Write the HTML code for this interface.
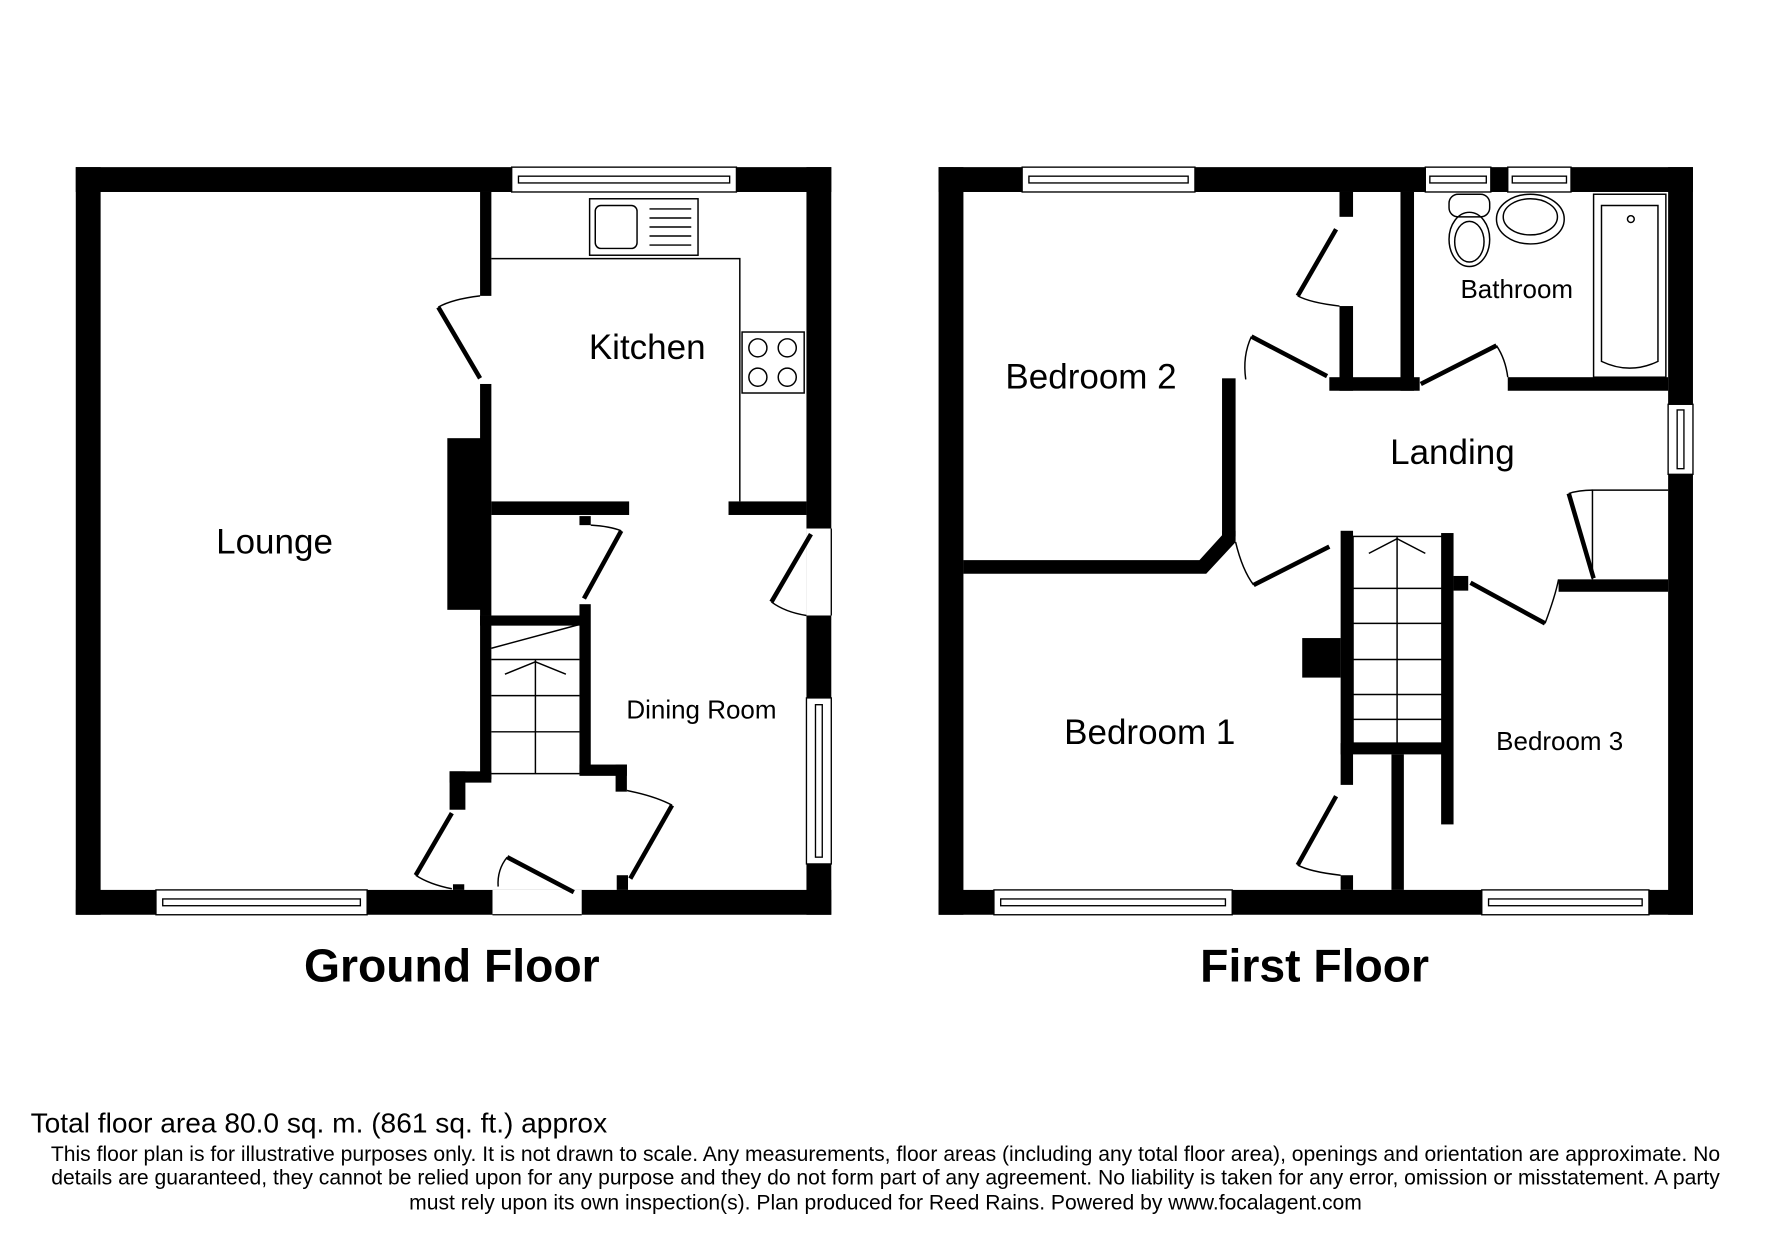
<!DOCTYPE html>
<html><head><meta charset="utf-8"><style>
html,body{margin:0;padding:0;background:#fff;}
svg{display:block;}
text{font-family:"Liberation Sans",Arial,sans-serif;fill:#000;}
</style></head><body>
<svg width="1771" height="1240" viewBox="0 0 1568 1098" xmlns="http://www.w3.org/2000/svg">
<rect width="1568" height="1098" fill="#fff"/>
<g fill="#000">
<rect x="67" y="148" width="669" height="22"/>
<rect x="67" y="788" width="669" height="22"/>
<rect x="67" y="148" width="22" height="662"/>
<rect x="714" y="148" width="22" height="662"/>
<rect x="425" y="170" width="10" height="92"/>
<rect x="425" y="340" width="10" height="205"/>
<rect x="396" y="388" width="30" height="152"/>
<rect x="435" y="444" width="122" height="12"/>
<rect x="645" y="444" width="69" height="12"/>
<rect x="425" y="545" width="93" height="9"/>
<rect x="513" y="535" width="10" height="150"/>
<rect x="513" y="677" width="42" height="10"/>
<rect x="545" y="677" width="10" height="24"/>
<rect x="425" y="545" width="10" height="145"/>
<rect x="398" y="683" width="37" height="10"/>
<rect x="398" y="683" width="14" height="34"/>
<rect x="513" y="457" width="10" height="8"/>
<rect x="546" y="775" width="10" height="13"/>
<rect x="401" y="783" width="10" height="5"/>
<rect x="831" y="148" width="668" height="22"/>
<rect x="831" y="788" width="668" height="22"/>
<rect x="831" y="148" width="22" height="662"/>
<rect x="1477" y="148" width="22" height="662"/>
<rect x="1186" y="170" width="12" height="22"/>
<rect x="1186" y="271" width="12" height="75"/>
<rect x="1240" y="170" width="12" height="176"/>
<rect x="1177" y="334" width="80" height="12"/>
<rect x="1335" y="334" width="142" height="12"/>
<rect x="1082" y="335" width="12" height="140"/>
<polygon points="1082,470 1094,470 1094,480 1068,508 853,508 853,496 1062,496 1082,474"/>
<rect x="1187" y="470" width="11" height="225"/>
<rect x="1276" y="472" width="11" height="258"/>
<rect x="1187" y="658" width="98" height="10"/>
<rect x="1232" y="668" width="11" height="120"/>
<rect x="1187" y="775" width="11" height="13"/>
<rect x="1153" y="565" width="34" height="35"/>
<rect x="1380" y="513" width="97" height="11"/>
<rect x="1287" y="510" width="13" height="13"/>
</g>
<g fill="#fff" stroke="#000" stroke-width="1.2">
<rect x="453" y="148" width="199" height="22"/><rect x="459" y="156" width="187" height="6"/>
<rect x="138" y="788" width="187" height="22"/><rect x="144" y="796" width="175" height="6"/>
<rect x="714" y="618" width="22" height="147"/><rect x="722" y="624" width="6" height="135"/>
<rect x="714" y="468" width="22" height="77" stroke="none"/>
<rect x="436" y="788" width="79" height="22" stroke="none"/>
<line x1="436" y1="810" x2="515" y2="810"/>
<line x1="736" y1="468" x2="736" y2="545"/>
<rect x="905" y="148" width="153" height="22"/><rect x="911" y="156" width="141" height="6"/>
<rect x="1262" y="148" width="58" height="22"/><rect x="1266" y="156" width="50" height="6"/>
<rect x="1335" y="148" width="56" height="22"/><rect x="1339" y="156" width="48" height="6"/>
<rect x="880" y="788" width="211" height="22"/><rect x="886" y="796" width="199" height="6"/>
<rect x="1312" y="788" width="148" height="22"/><rect x="1318" y="796" width="136" height="6"/>
<rect x="1477" y="358" width="22" height="62"/><rect x="1485" y="363" width="6" height="52"/>
</g>
<g fill="none" stroke="#000" stroke-width="1.3">
<polyline points="435,229 655,229 655,444"/>
<rect x="522" y="176" width="96" height="50"/>
<rect x="527" y="182" width="37" height="38" rx="5"/>
<line x1="575" y1="185" x2="612" y2="185"/><line x1="575" y1="193" x2="612" y2="193"/><line x1="575" y1="201" x2="612" y2="201"/><line x1="575" y1="209" x2="612" y2="209"/><line x1="575" y1="217" x2="612" y2="217"/>
<rect x="657" y="294" width="55" height="54"/>
<circle cx="671" cy="308" r="8"/><circle cx="697" cy="308" r="8"/><circle cx="671" cy="334" r="8"/><circle cx="697" cy="334" r="8"/>
<line x1="435" y1="584" x2="513" y2="584"/><line x1="435" y1="616" x2="513" y2="616"/><line x1="435" y1="648" x2="513" y2="648"/>
<line x1="474" y1="584" x2="474" y2="685"/><line x1="435" y1="685" x2="513" y2="685"/>
<line x1="435" y1="574" x2="513" y2="553"/>
<polyline points="447,597 474,586 501,597"/>
<rect x="1198" y="475" width="79" height="183"/>
<line x1="1237" y1="475" x2="1237" y2="658"/>
<line x1="1198" y1="521" x2="1277" y2="521"/><line x1="1198" y1="552" x2="1277" y2="552"/><line x1="1198" y1="584" x2="1277" y2="584"/><line x1="1198" y1="615" x2="1277" y2="615"/><line x1="1198" y1="637" x2="1277" y2="637"/>
<polyline points="1212,490 1237,477 1262,490"/>
<rect x="1411" y="172" width="64" height="162"/>
<path d="M1418,182 H1468 V320 Q1443,332 1418,320 Z"/>
<circle cx="1444" cy="194" r="3"/>
<ellipse cx="1355" cy="194" rx="30" ry="22"/><ellipse cx="1355" cy="192" rx="24" ry="16"/>
<rect x="1283" y="172" width="36" height="20" rx="8"/>
<ellipse cx="1301" cy="212" rx="18" ry="24"/><ellipse cx="1301" cy="214" rx="13" ry="18"/>
<polyline points="1477,434 1410,434 1410,513"/>
<path d="M425,262 Q400,265 388,272"/>
<path d="M523,465 Q540,466 550,470"/>
<path d="M714,545 Q695,542 683,533"/>
<path d="M400,787 Q380,783 368,775"/>
<path d="M555,700 Q580,705 595,713"/>
<path d="M441,785 Q440,770 449,759"/>
<path d="M1186,271 Q1160,268 1149,262"/>
<path d="M1103,336 Q1100,315 1108,298"/>
<path d="M1335,334 Q1333,318 1325,306"/>
<path d="M1094,480 Q1100,505 1110,518"/>
<path d="M1380,513 Q1377,528 1368,552"/>
<path d="M1410,434 Q1398,434 1389,437"/>
<path d="M1187,775 Q1160,772 1149,766"/>
</g>
<g fill="none" stroke="#000" stroke-width="4">
<line x1="388" y1="272" x2="425" y2="335"/>
<line x1="550" y1="470" x2="517" y2="530"/>
<line x1="683" y1="533" x2="718" y2="473"/>
<line x1="368" y1="775" x2="400" y2="720"/>
<line x1="595" y1="713" x2="558" y2="778"/>
<line x1="449" y1="759" x2="508" y2="790"/>
<line x1="1149" y1="262" x2="1183" y2="203"/>
<line x1="1108" y1="298" x2="1175" y2="333"/>
<line x1="1325" y1="306" x2="1258" y2="340"/>
<line x1="1110" y1="518" x2="1177" y2="484"/>
<line x1="1368" y1="552" x2="1302" y2="516"/>
<line x1="1389" y1="437" x2="1411" y2="512"/>
<line x1="1149" y1="766" x2="1183" y2="705"/>
</g>
<g text-anchor="middle">
<text x="573" y="318" font-size="31">Kitchen</text>
<text x="243" y="490" font-size="31">Lounge</text>
<text x="621" y="636" font-size="23">Dining Room</text>
<text x="966" y="344" font-size="31">Bedroom 2</text>
<text x="1343" y="264" font-size="23">Bathroom</text>
<text x="1286" y="411" font-size="31">Landing</text>
<text x="1018" y="659" font-size="31">Bedroom 1</text>
<text x="1381" y="664" font-size="23">Bedroom 3</text>
<text x="400" y="869" font-size="41" font-weight="bold">Ground Floor</text>
<text x="1164" y="869" font-size="41" font-weight="bold">First Floor</text>
<text x="784" y="1028" font-size="18.7">This floor plan is for illustrative purposes only. It is not drawn to scale. Any measurements, floor areas (including any total floor area), openings and orientation are approximate. No</text>
<text x="784" y="1049" font-size="18.7">details are guaranteed, they cannot be relied upon for any purpose and they do not form part of any agreement. No liability is taken for any error, omission or misstatement. A party</text>
<text x="784" y="1071" font-size="18.7">must rely upon its own inspection(s). Plan produced for Reed Rains. Powered by www.focalagent.com</text>
</g>
<text x="27" y="1003" font-size="24.9">Total floor area 80.0 sq. m. (861 sq. ft.) approx</text>
</svg>
</body></html>
